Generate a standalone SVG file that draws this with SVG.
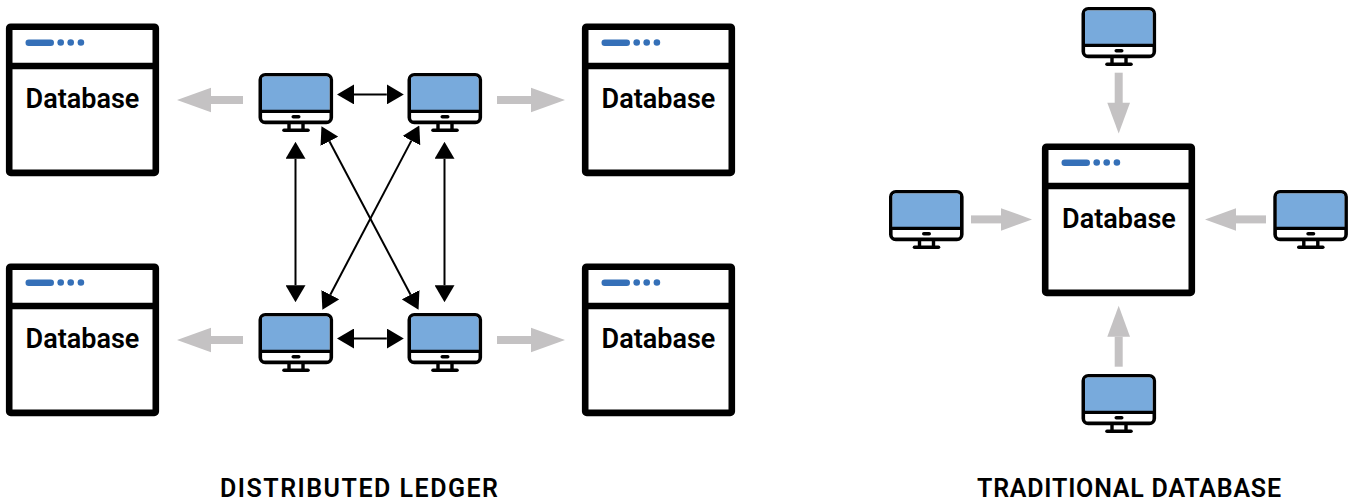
<svg xmlns="http://www.w3.org/2000/svg" width="1352" height="504" viewBox="0 0 1352 504">
<style>
.t{font-family:Roboto,"Liberation Sans",sans-serif;font-weight:600;fill:#000}
.db{font-size:27px;text-anchor:middle}
.cap{font-size:25px;text-anchor:middle}
.bl{fill:none;stroke:#000;stroke-width:2}
.gr{fill:none;stroke:#c4c2c3;stroke-width:8}
.gh{fill:#c4c2c3}
</style>
<defs>
<marker id="a" viewBox="0 0 17 20" refX="0" refY="10" markerWidth="17" markerHeight="20" markerUnits="userSpaceOnUse" orient="auto-start-reverse"><path d="M0 0L17 10L0 20z" fill="#000"/></marker>
<g id="box">
<rect x="9.200" y="26.700" width="146.600" height="146.200" rx="1.500" fill="#fff" stroke="#000" stroke-width="6.600"/>
<path d="M9 66H156" stroke="#000" stroke-width="6.600"/>
<rect x="25.500" y="39.500" width="28.500" height="6.500" rx="3.250" fill="#3570b8"/>
<circle cx="60.700" cy="42.500" r="3.300" fill="#3570b8"/><circle cx="70.700" cy="42.500" r="3.300" fill="#3570b8"/><circle cx="80.900" cy="42.500" r="3.300" fill="#3570b8"/>
</g>
<g id="pc">
<rect x="1.800" y="1.800" width="71" height="47.600" rx="5" fill="#fff" stroke="#000" stroke-width="3.600"/>
<path d="M3.500 37V6.500a3 3 0 0 1 3-3H68a3 3 0 0 1 3 3V37z" fill="#78aadc"/>
<path d="M2 38.400H73" stroke="#000" stroke-width="3.400"/>
<rect x="33" y="41.900" width="9" height="3.600" rx="1.800" fill="#000"/>
<path d="M30.500 50V57M44.500 50V57" stroke="#000" stroke-width="3.400"/>
<path d="M25.500 57.200H49.500" stroke="#000" stroke-width="3.600" stroke-linecap="round"/>
</g>
</defs>
<g id="connectors">
<path class="bl" d="M354 94.400H386.800" marker-start="url(#a)" marker-end="url(#a)"/>
<path class="bl" d="M354 338.500H386.800" marker-start="url(#a)" marker-end="url(#a)"/>
<path class="bl" d="M295.500 158.800V285.200" marker-start="url(#a)" marker-end="url(#a)"/>
<path class="bl" d="M444.500 158.800V285.200" marker-start="url(#a)" marker-end="url(#a)"/>
<path class="bl" d="M329.400 141.300L410.600 294.700" marker-start="url(#a)" marker-end="url(#a)"/>
<path class="bl" d="M411.400 140.600L330.300 294.700" marker-start="url(#a)" marker-end="url(#a)"/>
<path d="M243 100H211" class="gr"/><path d="M177 100L211 87.700V112.300z" class="gh"/>
<path d="M243 340H211" class="gr"/><path d="M177 340L211 327.700V352.300z" class="gh"/>
<path d="M497 100H531" class="gr"/><path d="M565 100L531 87.700V112.300z" class="gh"/>
<path d="M497 340H531" class="gr"/><path d="M565 340L531 327.700V352.300z" class="gh"/>
<path d="M1118.700 72.700V103" class="gr"/><path d="M1118.700 133.500L1107.300 102.700H1130z" class="gh"/>
<path d="M1118.700 366.700V336.700" class="gr"/><path d="M1118.700 305.700L1107.300 336.700H1130z" class="gh"/>
<path d="M971 219.400H1001" class="gr"/><path d="M1032 219.400L1001 208.200V230.700z" class="gh"/>
<path d="M1266 219.400H1236" class="gr"/><path d="M1205 219.400L1236 208.200V230.700z" class="gh"/>
</g>
<g id="db1"><use href="#box"/><text class="t db" x="82.500" y="108">Database</text></g>
<g id="db2"><use href="#box" x="576"/><text class="t db" x="658.500" y="108">Database</text></g>
<g id="db3"><use href="#box" y="240"/><text class="t db" x="82.500" y="348">Database</text></g>
<g id="db4"><use href="#box" x="576" y="240"/><text class="t db" x="658.500" y="348">Database</text></g>
<g id="db5"><use href="#box" x="1036" y="120"/><text class="t db" x="1119" y="228">Database</text></g>
<g id="pc1"><use href="#pc" x="258.500" y="73"/></g>
<g id="pc2"><use href="#pc" x="407.500" y="73"/></g>
<g id="pc3"><use href="#pc" x="258.500" y="313"/></g>
<g id="pc4"><use href="#pc" x="407.500" y="313"/></g>
<g id="pc5"><use href="#pc" x="1081.500" y="7"/></g>
<g id="pc6"><use href="#pc" x="889" y="190"/></g>
<g id="pc7"><use href="#pc" x="1273.300" y="190"/></g>
<g id="pc8"><use href="#pc" x="1081.500" y="374"/></g>
<text class="t cap" x="359" y="497" textLength="278" lengthAdjust="spacing">DISTRIBUTED LEDGER</text>
<text class="t cap" x="1129" y="497" textLength="304" lengthAdjust="spacing">TRADITIONAL DATABASE</text>
</svg>
